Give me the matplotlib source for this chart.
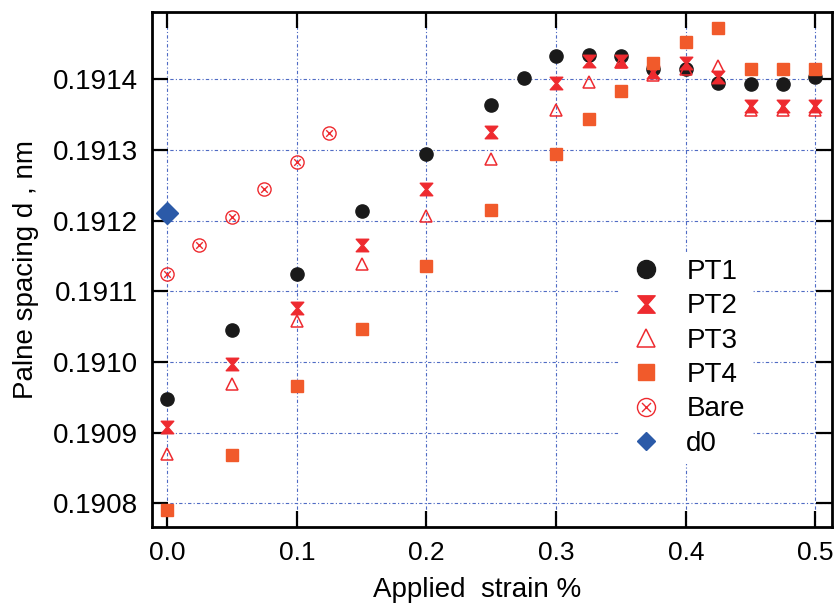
import matplotlib
import matplotlib.pyplot as plt
import numpy as np
from matplotlib.path import Path

plt.rcParams['font.family'] = ['Liberation Sans', 'DejaVu Sans']
plt.rcParams['axes.linewidth'] = 2
plt.rcParams['xtick.direction'] = 'in'
plt.rcParams['ytick.direction'] = 'in'

# data
strain = [0.0, 0.05, 0.1, 0.15, 0.2, 0.25, 0.275, 0.3, 0.325, 0.35, 0.375, 0.4, 0.425, 0.45, 0.475, 0.5]
pt1 = [0.190948, 0.191045, 0.191125, 0.191214, 0.191294, 0.191363, 0.191402, 0.191433,
       0.191434, 0.191433, 0.191415, 0.191414, 0.191394, 0.191393, 0.191393, 0.191403]

strain_pt = [0.0, 0.05, 0.1, 0.15, 0.2, 0.25, 0.3, 0.325, 0.35, 0.375, 0.4, 0.425, 0.45, 0.475, 0.5]
pt2 = [0.190908, 0.190997, 0.191076, 0.191165, 0.191245, 0.191325, 0.191394, 0.191425,
       0.191426, 0.191410, 0.191423, 0.191403, 0.191362, 0.191362, 0.191362]
pt3 = [0.190870, 0.190969, 0.191058, 0.191139, 0.191207, 0.191287, 0.191356, 0.191396,
       0.191424, 0.191406, 0.191415, 0.191418, 0.191356, 0.191356, 0.191356]
pt4 = [0.190790, 0.190868, 0.190966, 0.191046, 0.191136, 0.191215, 0.191294, 0.191344,
       0.191383, 0.191423, 0.191453, 0.191473, 0.191414, 0.191414, 0.191414]

strain_bare = [0.0, 0.025, 0.05, 0.075, 0.1, 0.125]
bare = [0.191125, 0.191165, 0.191205, 0.191244, 0.191283, 0.191324]

strain_d0 = [0.0]
d0 = [0.191210]

xticks = [0.0, 0.1, 0.2, 0.3, 0.4, 0.5]
yticks = [0.1908, 0.1909, 0.1910, 0.1911, 0.1912, 0.1913, 0.1914]

# custom markers
hourglass = Path([(-1, 1), (1, 1), (0.12, 0), (1, -1), (-1, -1), (-0.12, 0), (-1, 1)],
                 [Path.MOVETO, Path.LINETO, Path.LINETO, Path.LINETO, Path.LINETO, Path.LINETO, Path.CLOSEPOLY])
circ = Path.unit_circle()
k = 0.5
cross = Path([(-k, -k), (k, k), (-k, k), (k, -k)],
             [Path.MOVETO, Path.LINETO, Path.MOVETO, Path.LINETO])
otimes = Path.make_compound_path(circ, cross)

red = '#ee2a2f'
orange = '#f15a2b'

fig = plt.figure(figsize=(8.39, 6.05), dpi=100)
ax = fig.add_axes([0.1812, 0.1294, 0.8101, 0.8508])

ax.grid(True, color='#4f6bc4', linestyle=(0, (3, 2, 1, 2)), linewidth=0.8)
ax.set_axisbelow(True)

ax.plot(strain, pt1, 'o', color='#1a1a1a', ms=9.5, label='PT1', linestyle='none')
ax.plot(strain_pt, pt2, marker=hourglass, color=red, ms=9, label='PT2', linestyle='none')
ax.plot(strain_pt, pt3, '^', mfc='none', mec=red, mew=1.1, ms=9, label='PT3', linestyle='none')
ax.plot(strain_pt, pt4, 's', color=orange, ms=8.6, label='PT4', linestyle='none')
ax.plot(strain_bare, bare, marker=otimes, mfc='none', mec=red, mew=1.0, ms=9.5, label='Bare', linestyle='none')
ax.plot(strain_d0, d0, 'D', color='#2b5aa8', ms=11, label='d0', linestyle='none')

ax.set_xlim(-0.0116, 0.5125)
ax.set_ylim(0.190767, 0.191495)
ax.set_xticks(xticks)
ax.set_xticklabels([f"{v:.1f}" for v in xticks])
ax.set_yticks(yticks)
ax.set_yticklabels([f"{v:.4f}" for v in yticks])
ax.tick_params(axis='both', which='major', length=11.5, width=1.6, top=True, right=True, pad=10)
ax.tick_params(axis='x', labelsize=19)
ax.tick_params(axis='y', labelsize=20)

ax.set_xlabel("Applied  strain %", fontsize=20)
ax.xaxis.set_label_coords(0.478, -0.097)
ax.set_ylabel("Palne spacing d , nm", fontsize=20, labelpad=10)

leg = ax.legend(loc='upper left', bbox_to_anchor=(0.688, 0.5335), borderaxespad=0,
                frameon=True, fancybox=False, edgecolor='none', facecolor='white', framealpha=1,
                fontsize=20, handletextpad=0.75, labelspacing=0.3, borderpad=0.25, handlelength=1.4)
sizes = [13, 12.5, 12.5, 12, 13, 9]
for h, s in zip(leg.legend_handles, sizes):
    h.set_markersize(s)

plt.savefig("out.png", dpi=100)
